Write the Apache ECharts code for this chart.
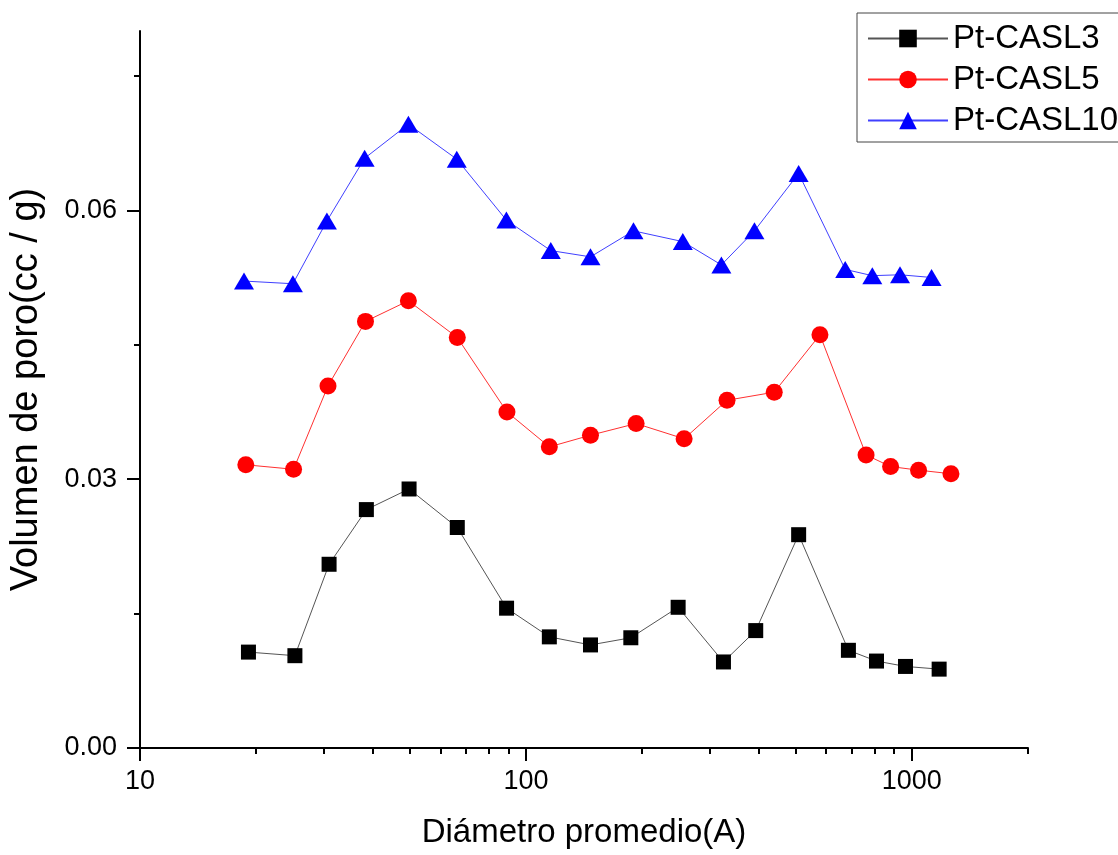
<!DOCTYPE html>
<html>
<head>
<meta charset="utf-8">
<script src="https://cdn.jsdelivr.net/npm/echarts@6/dist/echarts.min.js"></script>
<style>
  html, body { margin: 0; padding: 0; background: #fff; }
  #chart { width: 1118px; height: 855px; }
</style>
</head>
<body>
<div id="chart"></div>
<script>
// diameters (A)
const diamCASL3 = [19.1, 25.2, 30.9, 38.6, 49.8, 66.4, 89.1, 115, 147, 187, 248, 325, 394, 509, 685, 810, 963, 1177];
const volCASL3 = [0.0107, 0.0103, 0.0205, 0.0266, 0.0289, 0.0246, 0.0156, 0.0124, 0.0115, 0.0123, 0.0157, 0.0096, 0.0131, 0.0238, 0.0109, 0.0097, 0.0091, 0.0088];

const diamCASL5 = [18.8, 25.0, 30.7, 38.4, 49.6, 66.4, 89.3, 115, 147, 193, 257, 332, 440, 578, 761, 881, 1041, 1263];
const volCASL5 = [0.0316, 0.0311, 0.0404, 0.0476, 0.0499, 0.0458, 0.0375, 0.0336, 0.0349, 0.0362, 0.0345, 0.0388, 0.0397, 0.0461, 0.0327, 0.0314, 0.0310, 0.0306];

const diamCASL10 = [18.6, 24.9, 30.5, 38.2, 49.6, 66.2, 89.0, 116, 147, 190, 255, 321, 391, 509, 672, 790, 932, 1125];
const volCASL10 = [0.0521, 0.0518, 0.0588, 0.0658, 0.0696, 0.0657, 0.0589, 0.0555, 0.0548, 0.0577, 0.0565, 0.0539, 0.0577, 0.0641, 0.0534, 0.0527, 0.0528, 0.0525];

const xMajorTicks = [10, 100, 1000];
const xMinorTicks = [20, 30, 40, 50, 60, 70, 80, 90, 200, 300, 400, 500, 600, 700, 800, 900, 2000];
const yMajorTicks = [0, 0.03, 0.06];
const yMinorTicks = [0.015, 0.045, 0.075];

const pairs = (xs, ys) => xs.map((x, i) => [x, ys[i]]);

const font = 'Liberation Sans, Arial, sans-serif';
const chart = echarts.init(document.getElementById('chart'));

// same box twice: grid 1 only carries the short minor ticks
const plotBox = { left: 140, right: 90, top: 31, bottom: 107, outerBoundsMode: 'none' };

const minorTick = (values) => ({
  show: true,
  customValues: values,
  length: 6,
  lineStyle: { color: '#000', width: 2 },
});

chart.setOption({
  backgroundColor: '#fff',
  animation: false,
  textStyle: { fontFamily: font },
  grid: [plotBox, plotBox],
  legend: {
    orient: 'vertical',
    left: 857,
    top: 13,
    padding: [9, 200, 5, 10],
    itemGap: 8,
    itemWidth: 80,
    itemHeight: 22,
    borderColor: '#444',
    borderWidth: 1,
    backgroundColor: '#fff',
    textStyle: { fontSize: 33, lineHeight: 32, color: '#000', fontFamily: font },
    data: ['Pt-CASL3', 'Pt-CASL5', 'Pt-CASL10'],
  },
  xAxis: [
    {
      type: 'log',
      logBase: 10,
      min: 10,
      max: 2000,
      name: 'Diámetro promedio(A)',
      nameLocation: 'middle',
      nameGap: 68,
      nameTextStyle: { fontSize: 33, color: '#000', fontFamily: font },
      axisLine: { onZero: false, lineStyle: { color: '#000', width: 2 } },
      axisTick: { customValues: xMajorTicks, length: 13, lineStyle: { color: '#000', width: 2 } },
      axisLabel: {
        customValues: xMajorTicks,
        fontSize: 27,
        color: '#000',
        margin: 20,
        fontFamily: font,
        formatter: (v) => String(v),
      },
      splitLine: { show: false },
    },
    {
      gridIndex: 1,
      type: 'log',
      logBase: 10,
      min: 10,
      max: 2000,
      axisLine: { show: false, onZero: false },
      axisTick: minorTick(xMinorTicks),
      axisLabel: { show: false },
      splitLine: { show: false },
    },
  ],
  yAxis: [
    {
      type: 'value',
      min: 0,
      max: 0.08,
      name: 'Volumen de poro(cc / g)',
      nameLocation: 'middle',
      nameGap: 94,
      nameTextStyle: { fontSize: 38, color: '#000', fontFamily: font },
      axisLine: { show: true, onZero: false, lineStyle: { color: '#000', width: 2 } },
      axisTick: { show: true, customValues: yMajorTicks, length: 13, lineStyle: { color: '#000', width: 2 } },
      axisLabel: {
        customValues: yMajorTicks,
        fontSize: 27,
        color: '#000',
        margin: 23,
        fontFamily: font,
        formatter: (v) => v.toFixed(2),
      },
      splitLine: { show: false },
    },
    {
      gridIndex: 1,
      type: 'value',
      min: 0,
      max: 0.08,
      axisLine: { show: false, onZero: false },
      axisTick: minorTick(yMinorTicks),
      axisLabel: { show: false },
      splitLine: { show: false },
    },
  ],
  series: [
    {
      name: 'Pt-CASL3',
      type: 'line',
      data: pairs(diamCASL3, volCASL3),
      symbol: 'rect',
      symbolSize: 15,
      itemStyle: { color: '#000' },
      lineStyle: { color: '#555', width: 1 },
    },
    {
      name: 'Pt-CASL5',
      type: 'line',
      data: pairs(diamCASL5, volCASL5),
      symbol: 'circle',
      symbolSize: 17,
      itemStyle: { color: '#ff0000' },
      lineStyle: { color: '#ff3030', width: 1 },
    },
    {
      name: 'Pt-CASL10',
      type: 'line',
      data: pairs(diamCASL10, volCASL10),
      symbol: 'triangle',
      symbolSize: [20, 17],
      itemStyle: { color: '#0000ff' },
      lineStyle: { color: '#4040ff', width: 1 },
    },
  ],
});
</script>
</body>
</html>
